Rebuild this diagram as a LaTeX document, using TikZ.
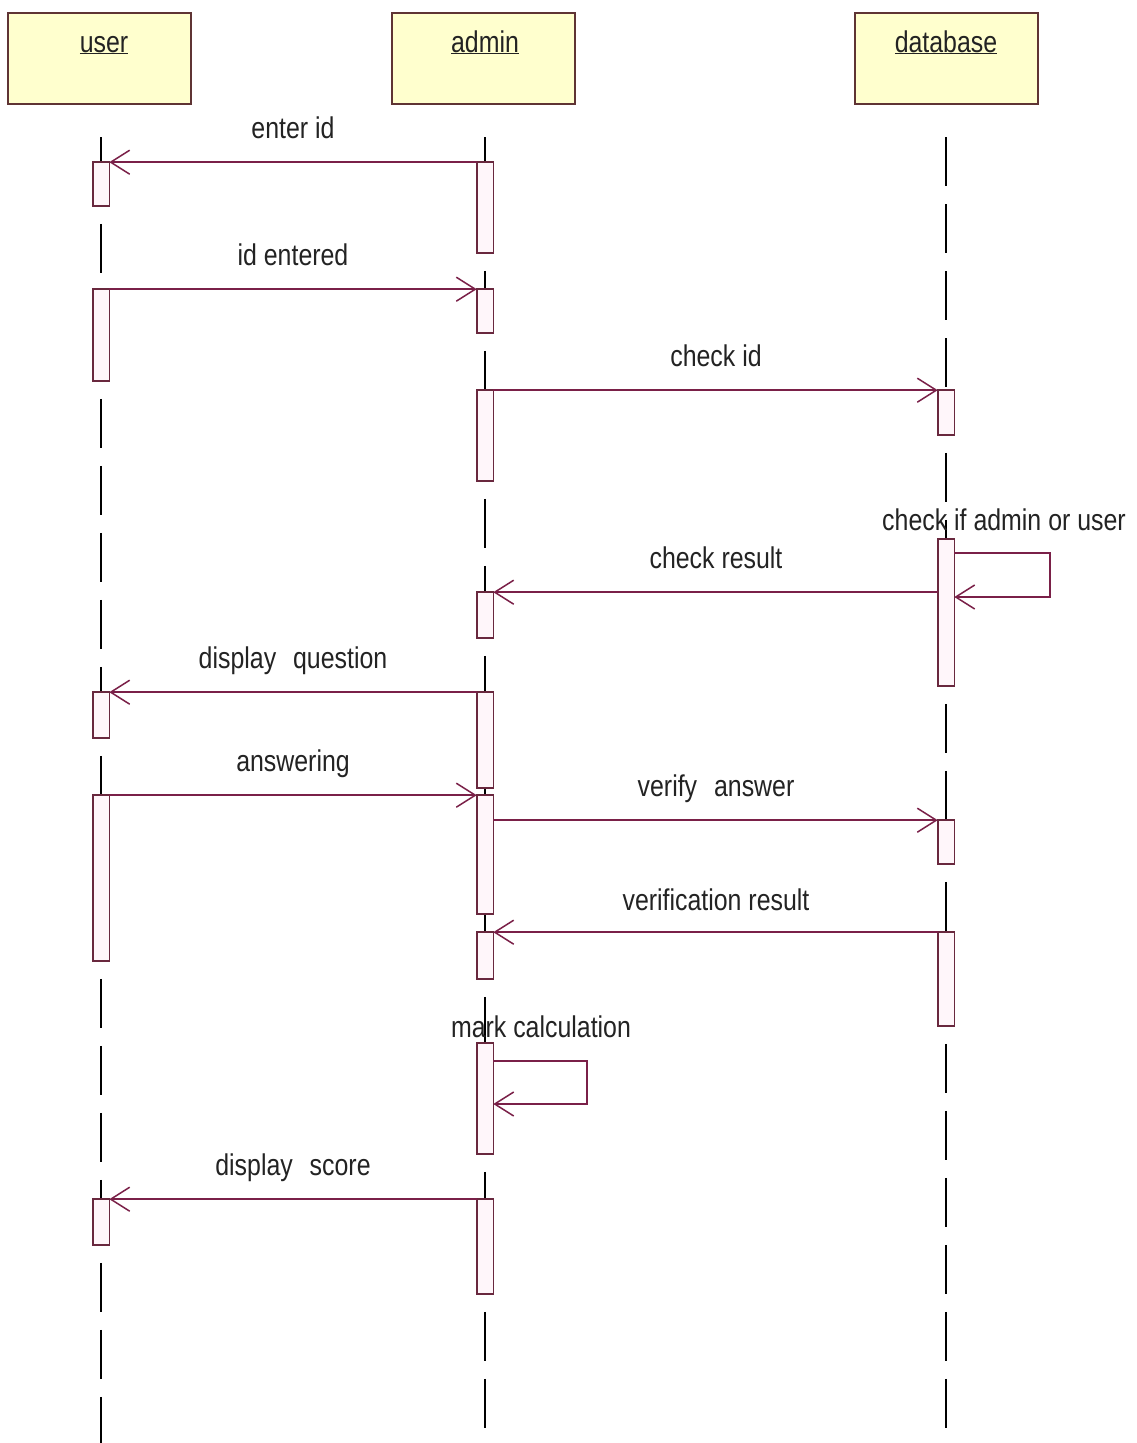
\documentclass[tikz,border=0pt]{standalone}
\usepackage{fontspec}
\setmainfont[FakeStretch=0.83]{Liberation Sans}
\usetikzlibrary{arrows.meta}
\definecolor{msgc}{RGB}{122,32,72}
\definecolor{actc}{RGB}{105,40,62}
\definecolor{actf}{RGB}{255,246,250}
\definecolor{headc}{RGB}{95,52,52}
\definecolor{headf}{RGB}{255,255,206}
\definecolor{txtc}{RGB}{35,35,35}
\begin{document}
\begin{tikzpicture}[x=1pt,y=-1pt,
  head/.style={draw=headc, fill=headf, line width=1.7pt, minimum width=183pt, minimum height=91pt, inner sep=0pt},
  headtxt/.style={font=\fontsize{30}{34}\selectfont, text=txtc, inner sep=0pt, anchor=base},
  act/.style={draw=actc, fill=actf, line width=1.6pt, minimum width=15pt, inner sep=0pt},
  msg/.style={draw=msgc, line width=1.8pt, -{Straight Barb[length=19pt,width=24pt,line width=1.5pt]}},
  loopmsg/.style={msg},
  lbl/.style={font=\fontsize{30}{34}\selectfont, text=txtc, inner sep=0pt, anchor=base},
  life/.style={draw=black, line width=1.7pt, dash pattern=on 49pt off 18pt},
  lifeseg/.style={life, dash phase=49pt}
]
\useasboundingbox (0,0) rectangle (1137,1443);
\fill[white] (0,0) rectangle (1137,1443);

% heads
\node[head] (user) at (99.5,58.5) {};
\node[head] (admin) at (483.5,58.5) {};
\node[head] (db) at (946.5,58.5) {};
\node[headtxt] (userT) at (104,52) {\underline{user}};
\node[headtxt] (adminT) at (485,52) {\underline{admin}};
\node[headtxt] (dbT) at (946,52) {\underline{database}};

% lifeline ends
\coordinate (uTop) at (101,137);
\coordinate (aTop) at (485,137);
\coordinate (dTop) at (946,137);
\coordinate (uBot) at (101,1443);
\coordinate (aBot) at (485,1443);
\coordinate (dBot) at (946,1443);

% activations
\path
  (101,184)  node[act, minimum height=42pt] (U1) {}
  (101,335)  node[act, minimum height=90pt] (U2) {}
  (101,715)  node[act, minimum height=44pt] (U3) {}
  (101,878)  node[act, minimum height=164pt] (U4) {}
  (101,1222) node[act, minimum height=44pt] (U5) {};
\path
  (485,207.5)  node[act, minimum height=89pt] (A1) {}
  (485,311)    node[act, minimum height=42pt] (A2) {}
  (485,435.5)  node[act, minimum height=89pt] (A3) {}
  (485,615)    node[act, minimum height=44pt] (A4) {}
  (485,740)    node[act, minimum height=94pt] (A5) {}
  (485,854.5)  node[act, minimum height=117pt] (A6) {}
  (485,955.5)  node[act, minimum height=45pt] (A7) {}
  (485,1098.5) node[act, minimum height=109pt] (A8) {}
  (485,1246.5) node[act, minimum height=93pt] (A9) {};
\path
  (946,412.5) node[act, minimum height=43pt] (D1) {}
  (946,612.5) node[act, minimum height=145pt] (D2) {}
  (946,842)   node[act, minimum height=42pt] (D3) {}
  (946,979)   node[act, minimum height=92pt] (D4) {};

% lifelines
\draw[life] (uTop) -- (U1.north);
\draw[lifeseg] (U1.south) -- (U2.north);
\draw[lifeseg] (U2.south) -- (U3.north);
\draw[lifeseg] (U3.south) -- (U4.north);
\draw[lifeseg] (U4.south) -- (U5.north);
\draw[lifeseg] (U5.south) -- (uBot);
\draw[life] (aTop) -- (A1.north);
\draw[lifeseg] (A1.south) -- (A2.north);
\draw[lifeseg] (A2.south) -- (A3.north);
\draw[lifeseg] (A3.south) -- (A4.north);
\draw[lifeseg] (A4.south) -- (A5.north);
\draw[draw=black, line width=1.7pt] (A5.south) -- (A6.north);
\draw[draw=black, line width=1.7pt] (A6.south) -- (A7.north);
\draw[lifeseg] (A7.south) -- (A8.north);
\draw[lifeseg] (A8.south) -- (A9.north);
\draw[lifeseg] (A9.south) -- (aBot);
\draw[life] (dTop) -- (D1.north);
\draw[lifeseg] (D1.south) -- (D2.north);
\draw[lifeseg] (D2.south) -- (D3.north);
\draw[lifeseg] (D3.south) -- (D4.north);
\draw[lifeseg] (D4.south) -- (dBot);

% activation boxes on top of lifelines
\foreach \n in {U1,U2,U3,U4,U5,A1,A2,A3,A4,A5,A6,A7,A8,A9,D1,D2,D3,D4}{
  \draw[draw=actc, fill=actf, line width=1.6pt] (\n.north west) rectangle (\n.south east);
}

% messages
\draw[msg] (A1.north west) -- (U1.north east);
\draw[msg] (U2.north east) -- (A2.north west);
\draw[msg] (A3.north east) -- (D1.north west);
\coordinate (L1) at (1050,553);
\coordinate (L2) at (1050,597);
\draw[loopmsg] (L1 -| D2.east) -- (L1) -- (L2) -- (L2 -| D2.east);
\draw[msg] (A4.north east -| D2.west) -- (A4.north east);
\draw[msg] (A5.north west) -- (U3.north east);
\draw[msg] (U4.north east) -- (A6.north west);
\draw[msg] (A6.east |- D3.north) -- (D3.north west);
\draw[msg] (D4.north west) -- (A7.north east);
\coordinate (L3) at (587,1061);
\coordinate (L4) at (587,1104);
\draw[loopmsg] (L3 -| A8.east) -- (L3) -- (L4) -- (L4 -| A8.east);
\draw[msg] (A9.north west) -- (U5.north east);

% labels
\node[lbl] (m1) at (293,138) {enter id};
\node[lbl] (m2) at (293,265) {id entered};
\node[lbl] (m3) at (716,366) {check id};
\node[lbl] (m4) at (1004,530) {check if admin or user};
\node[lbl] (m5) at (716,568) {check result};
\node[lbl] (m6) at (293,668) {display\,\, question};
\node[lbl] (m7) at (293,771) {answering};
\node[lbl] (m8) at (716,796) {verify\,\, answer};
\node[lbl] (m9) at (716,910) {verification result};
\node[lbl] (m10) at (541,1037) {mark calculation};
\node[lbl] (m11) at (293,1175) {display\,\, score};
\end{tikzpicture}
\end{document}
